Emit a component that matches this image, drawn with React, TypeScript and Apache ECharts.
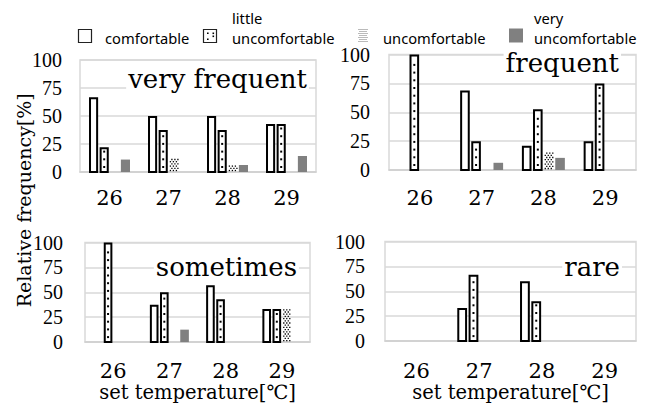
import React, { useEffect, useRef } from 'react';
import * as echarts from 'echarts';

const categories = ['26', '27', '28', '29'];
const seriesNames = ['comfortable', 'little uncomfortable', 'uncomfortable', 'very uncomfortable'];
const legendLine1 = ['', 'little', '', 'very'];
const legendLine2 = ['comfortable', 'uncomfortable', 'uncomfortable', 'uncomfortable'];
const panelTitles = ['very frequent', 'frequent', 'sometimes', 'rare'];
const yMin = 0;
const yMax = 100;
const yInterval = 25;
const xAxisName = 'set temperature[℃]';
const yAxisNameTop = 'frequency[%]';
const yAxisNameBottom = 'Relative';

// very frequent
const veryFrequentComfortable = [66.7, 50, 50, 42.9];
const veryFrequentLittle = [22.2, 37.5, 37.5, 42.9];
const veryFrequentUncomfortable = [0, 12.5, 6.25, 0];
const veryFrequentVery = [11.1, 0, 6.25, 14.3];
// frequent
const frequentComfortable = [0, 68.75, 21.1, 25];
const frequentLittle = [100, 25, 52.6, 75];
const frequentUncomfortable = [0, 0, 15.8, 0];
const frequentVery = [0, 6.25, 10.5, 0];
// sometimes
const sometimesComfortable = [0, 37.5, 57.1, 33.3];
const sometimesLittle = [100, 50, 42.9, 33.3];
const sometimesUncomfortable = [0, 0, 0, 33.3];
const sometimesVery = [0, 12.5, 0, 0];
// rare
const rareComfortable = [0, 33.3, 60, 0];
const rareLittle = [0, 66.7, 40, 0];
const rareUncomfortable = [0, 0, 0, 0];
const rareVery = [0, 0, 0, 0];

const panelData = [
  [veryFrequentComfortable, veryFrequentLittle, veryFrequentUncomfortable, veryFrequentVery],
  [frequentComfortable, frequentLittle, frequentUncomfortable, frequentVery],
  [sometimesComfortable, sometimesLittle, sometimesUncomfortable, sometimesVery],
  [rareComfortable, rareLittle, rareUncomfortable, rareVery],
];

const grids = [
  { left: 80, top: 60, width: 236, height: 112 },
  { left: 389, top: 54.5, width: 247, height: 115.5 },
  { left: 85, top: 242.5, width: 225, height: 100.5 },
  { left: 385, top: 241.5, width: 251, height: 106 },
];
const yLabelMargins = [18, 19, 22, 20];
const xLabelMargins = [15.5, 17, 18, 19];
const xNameGaps = [0, 0, 38.5, 34.5];
const titlePos = [
  { x: 309, y: 78.5 },
  { x: 621, y: 63 },
  { x: 299, y: 266.5 },
  { x: 622, y: 266.5 },
];

const SERIF = 'DejaVu Serif';
const TIMES = 'Liberation Serif';
const SANS = 'Noto Sans';

function makeRenderItem(kind: number) {
  return function (_params: any, api: any) {
    const cat = api.value(0);
    const val = api.value(1);
    if (!val) return null;
    const base = api.coord([cat, 0]);
    const top = api.coord([cat, val]);
    const band = api.size([1, 0])[0];
    const pitch = band * 0.18;
    const outer = pitch - 1.5;
    const cx = base[0] + (kind - 1.5) * pitch;
    const x0 = cx - outer / 2;
    const h = base[1] - top[1];
    const children: any[] = [];
    if (kind === 0 || kind === 1) {
      children.push({
        type: 'rect',
        shape: { x: x0 + 1, y: top[1] + 1, width: outer - 2, height: h - 1 },
        style: { fill: '#fff', stroke: '#000', lineWidth: 2 },
      });
      if (kind === 1) {
        for (let y = base[1] - 5; y > top[1] + 3; y -= 7.7) {
          children.push({
            type: 'rect',
            shape: { x: cx - 1, y: y - 1, width: 2, height: 2 },
            style: { fill: '#000' },
          });
        }
      }
    } else if (kind === 2) {
      let row = 0;
      for (let y = base[1] - 1.5; y > top[1]; y -= 2.2, row++) {
        const off = row % 2 ? 1.5 : 0;
        for (let x = x0 + 0.5 + off; x < x0 + outer - 1; x += 3) {
          children.push({
            type: 'rect',
            shape: { x, y: y - 0.65, width: 1.3, height: 1.3 },
            style: { fill: '#000' },
          });
        }
      }
    } else {
      children.push({
        type: 'rect',
        shape: { x: x0, y: top[1], width: outer, height: h },
        style: { fill: '#808080' },
      });
    }
    return { type: 'group', children };
  };
}

function buildLegend(): any[] {
  const els: any[] = [];
  const iconX = [78.5, 203.5, 358.5, 509];
  const textX = [105, 232, 383, 534];
  const textStyle = { fontFamily: SANS, fontSize: 14.7, fill: '#000' };
  els.push({ type: 'rect', shape: { x: iconX[0], y: 29.5, width: 13, height: 13 }, style: { fill: '#fff', stroke: '#222', lineWidth: 1.2 } });
  els.push({ type: 'rect', shape: { x: iconX[1], y: 29.5, width: 13, height: 13 }, style: { fill: '#fff', stroke: '#222', lineWidth: 1.2 } });
  [[207, 32.5], [207, 38.5], [212.5, 35.5], [212.5, 32.5]].forEach(([dx, dy]) => {
    els.push({ type: 'rect', shape: { x: dx, y: dy, width: 1.6, height: 1.6 }, style: { fill: '#000' } });
  });
  for (let yy = 29; yy < 42; yy += 2) {
    const off = ((yy - 29) / 2) % 2 ? 1 : 0;
    for (let xx = iconX[2] + off; xx < iconX[2] + 9; xx += 2) {
      els.push({ type: 'rect', shape: { x: xx, y: yy, width: 1, height: 1 }, style: { fill: '#777' } });
    }
  }
  els.push({ type: 'rect', shape: { x: iconX[3], y: 28.5, width: 14, height: 14 }, style: { fill: '#808080' } });
  for (let i = 0; i < seriesNames.length; i++) {
    if (legendLine1[i]) {
      els.push({ type: 'text', x: textX[i], y: 18.3, style: { ...textStyle, text: legendLine1[i], textAlign: 'left', textVerticalAlign: 'middle' } });
    }
    els.push({ type: 'text', x: textX[i], y: 37.6, style: { ...textStyle, text: legendLine2[i], textAlign: 'left', textVerticalAlign: 'middle' } });
  }
  return els;
}

function buildOption(): any {
  const xAxis: any[] = [];
  const yAxis: any[] = [];
  const series: any[] = [];
  grids.forEach((_g, p) => {
    xAxis.push({
      type: 'category',
      gridIndex: p,
      data: categories,
      axisLine: { show: true, lineStyle: { color: '#d0d0d0', width: 1.5 } },
      axisTick: { show: false },
      axisLabel: { color: '#000', fontFamily: SERIF, fontSize: 21, margin: xLabelMargins[p], interval: 0 },
      splitLine: { show: false },
      name: p >= 2 ? xAxisName : '',
      nameLocation: 'middle',
      nameGap: xNameGaps[p],
      nameTextStyle: { color: '#000', fontFamily: SERIF, fontSize: 19.5 },
    });
    yAxis.push({
      type: 'value',
      gridIndex: p,
      min: yMin,
      max: yMax,
      interval: yInterval,
      axisLine: { show: false },
      axisTick: { show: false },
      axisLabel: { color: '#000', fontFamily: TIMES, fontSize: 20, margin: yLabelMargins[p] },
      splitLine: { show: true, lineStyle: { color: '#d9d9d9', width: 1.5 } },
    });
    panelData[p].forEach((vals, k) => {
      series.push({
        type: 'custom',
        name: seriesNames[k],
        xAxisIndex: p,
        yAxisIndex: p,
        renderItem: makeRenderItem(k),
        encode: { x: 0, y: 1 },
        data: vals.map((v, i) => [i, v]),
        z: 3,
      });
    });
  });

  const graphic: any[] = buildLegend();
  panelTitles.forEach((t, p) => {
    graphic.push({
      type: 'text',
      x: titlePos[p].x,
      y: titlePos[p].y,
      z: 10,
      style: {
        text: t,
        fontFamily: SERIF,
        fontSize: 26,
        fill: '#000',
        textAlign: 'right',
        textVerticalAlign: 'middle',
        backgroundColor: '#fff',
        padding: [0, 2, 0, 2],
      },
    });
  });
  graphic.push({
    type: 'text', x: 24, y: 158, rotation: Math.PI / 2,
    style: { text: yAxisNameTop, fontFamily: SERIF, fontSize: 19, fill: '#000', textAlign: 'center', textVerticalAlign: 'middle' },
  });
  graphic.push({
    type: 'text', x: 24, y: 268, rotation: Math.PI / 2,
    style: { text: yAxisNameBottom, fontFamily: SERIF, fontSize: 19, fill: '#000', textAlign: 'center', textVerticalAlign: 'middle' },
  });

  return {
    animation: false,
    backgroundColor: '#fff',
    textStyle: { fontFamily: SERIF },
    grid: grids.map((g) => ({ ...g, show: true, borderColor: '#d9d9d9', borderWidth: 1.5, backgroundColor: 'transparent', containLabel: false })),
    xAxis,
    yAxis,
    series,
    graphic,
  };
}

export default function App() {
  const ref = useRef<HTMLDivElement>(null);
  useEffect(() => {
    if (!ref.current) return;
    const chart = echarts.init(ref.current, null, { renderer: 'svg' });
    chart.setOption(buildOption());
    return () => chart.dispose();
  }, []);
  return (
    <div
      ref={ref}
      style={{ position: 'fixed', left: 0, top: 0, width: 654, height: 403, background: '#fff' }}
    />
  );
}
